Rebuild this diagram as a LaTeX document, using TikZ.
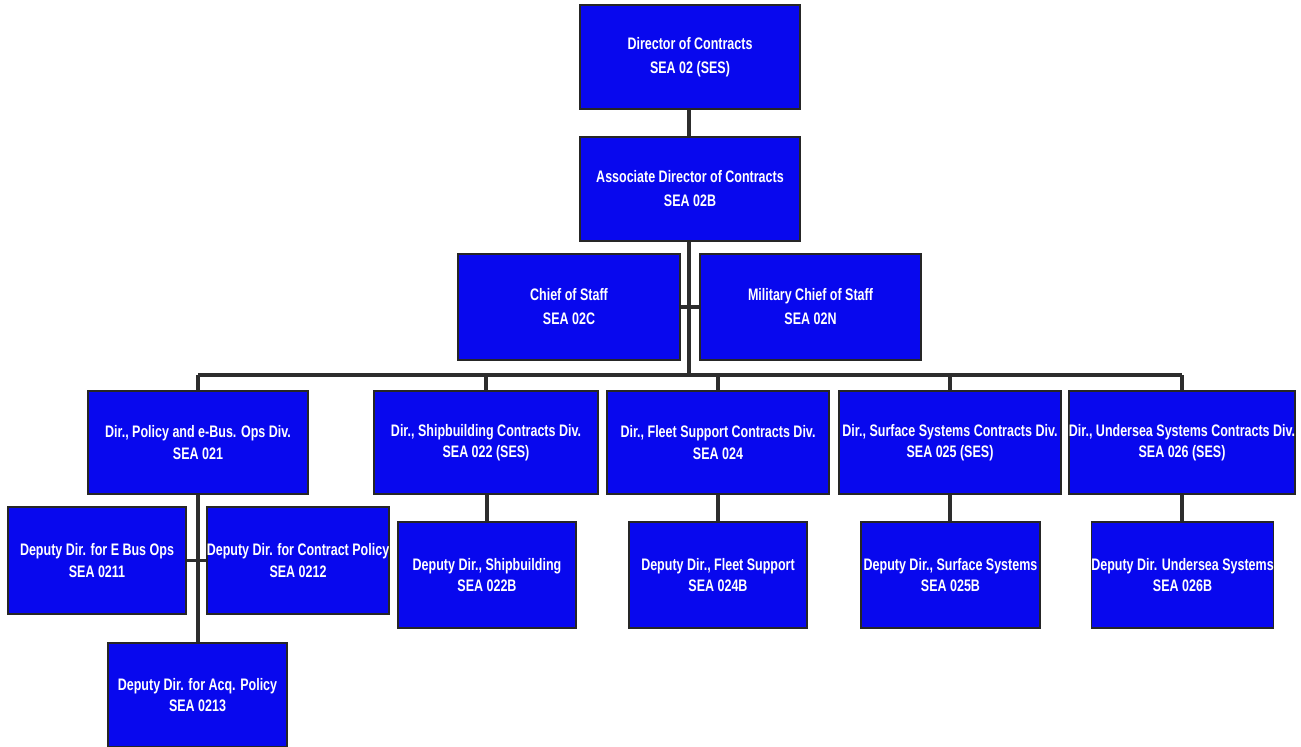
\documentclass[tikz,border=0pt]{standalone}
\usepackage{fontspec}
\newfontfamily\orgfont[FakeStretch=0.75]{Liberation Sans}
\definecolor{boxblue}{RGB}{8,8,238}
\definecolor{linegray}{RGB}{45,45,45}
\begin{document}
\begin{tikzpicture}[x=0.75pt,y=-0.75pt,
  orgbox/.style 2 args={draw=black!85, line width=1.1pt, fill=boxblue,
    minimum width=#1*0.75pt, minimum height=#2*0.75pt, inner sep=0pt,
    align=center, text=white, font=\orgfont\bfseries\fontsize{12.5}{16}\selectfont},
  topbox/.style 2 args={orgbox={#1}{#2}, font=\orgfont\bfseries\fontsize{12.5}{18}\selectfont},
  conn/.style={draw=linegray, line width=2.5pt}]
\useasboundingbox (0,0) rectangle (1301,746);
% nodes
\node[topbox={220}{104}] (dir) at (690,57) {Director of Contracts\\SEA 02 (SES)};
\node[topbox={220}{104}] (assoc) at (690,189) {Associate Director of Contracts\\SEA 02B};
\node[topbox={222}{106}] (chief) at (569,307) {Chief of Staff\\SEA 02C};
\node[topbox={221}{106}] (mil) at (810.5,307) {Military Chief of Staff\\SEA 02N};
\node[orgbox={220}{103}] (pol) at (198,442.5) {Dir., Policy and e-Bus. Ops Div.\\SEA 021};
\node[orgbox={224}{103}] (ship) at (486,442.5) {Dir., Shipbuilding Contracts Div.\\SEA 022 (SES)};
\node[orgbox={222}{103}] (fleet) at (718,442.5) {Dir., Fleet Support Contracts Div.\\SEA 024};
\node[orgbox={222}{103}] (surf) at (950,442.5) {Dir., Surface Systems Contracts Div.\\SEA 025 (SES)};
\node[orgbox={222}{103}] (under) at (1182,442.5) {Dir., Undersea Systems Contracts Div.\\SEA 026 (SES)};
\node[orgbox={178}{107}] (ebus) at (97,560.5) {Deputy Dir. for E Bus Ops\\SEA 0211};
\node[orgbox={178}{107}] (cpol) at (298,560.5) {Deputy Dir. for Contract Policy\\SEA 0212};
\node[orgbox={179}{104}] (acq) at (197.5,695) {Deputy Dir. for Acq. Policy\\SEA 0213};
\node[orgbox={178}{106}] (dship) at (487,575) {Deputy Dir., Shipbuilding\\SEA 022B};
\node[orgbox={178}{106}] (dfleet) at (718,575) {Deputy Dir., Fleet Support\\SEA 024B};
\node[orgbox={179}{106}] (dsurf) at (950.5,575) {Deputy Dir., Surface Systems\\SEA 025B};
\node[orgbox={179}{106}] (dunder) at (1182.5,575) {Deputy Dir. Undersea Systems\\SEA 026B};
% coordinates
\coordinate (bus) at (689,375);
\coordinate (busL) at (198,375);
\coordinate (busR) at (1182,375);
% connectors
\draw[conn] (dir.south -| bus) -- (assoc.north -| bus);
\draw[conn] (assoc.south -| bus) -- (bus);
\draw[conn] (chief.east) -- (mil.west);
\draw[conn] (busL) -- (busR);
\draw[conn] (busL) -- (pol.north);
\draw[conn] (ship.north |- bus) -- (ship.north);
\draw[conn] (fleet.north |- bus) -- (fleet.north);
\draw[conn] (surf.north |- bus) -- (surf.north);
\draw[conn] (busR) -- (under.north);
\draw[conn] (pol.south) -- (acq.north -| pol.south);
\draw[conn] (ebus.east) -- (cpol.west);
\draw[conn] (ship.south -| dship.north) -- (dship.north);
\draw[conn] (fleet.south) -- (dfleet.north);
\draw[conn] (surf.south) -- (dsurf.north -| surf.south);
\draw[conn] (under.south) -- (dunder.north -| under.south);
\end{tikzpicture}
\end{document}
